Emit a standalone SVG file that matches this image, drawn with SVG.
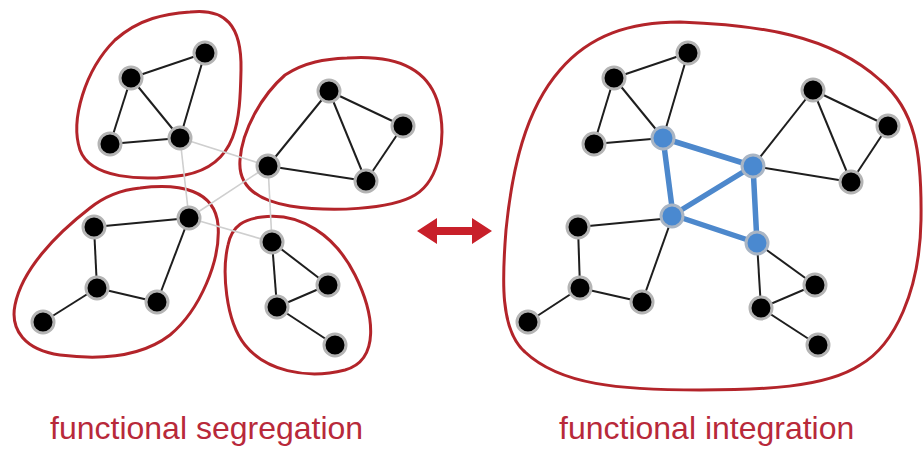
<svg xmlns="http://www.w3.org/2000/svg" width="923" height="451" viewBox="0 0 923 451">
<style>
.blob{fill:none;stroke:#b3242a;stroke-width:3}
.e{stroke:#1e1e1e;stroke-width:2;fill:none}
.g{stroke:#cfcfcf;stroke-width:1.6;fill:none}
.b{stroke:#4d88cc;stroke-width:5.5;fill:none;stroke-linecap:round}
.n{fill:#000;stroke:#b4b4b4;stroke-width:3}
.nb{fill:#4a89d0;stroke:#a9b5c4;stroke-width:3}
.lbl{font-family:"Liberation Sans",Arial,sans-serif;font-size:32px;fill:#b8293a}
</style>
<g id="modules">
<path class="blob" d="M 190,12 C 225,8 242,25 241,70 C 240,120 238,165 185,175 C 140,182 90,178 80,150 C 70,120 85,70 115,40 C 140,18 165,14 190,12 Z"/>
<path class="blob" d="M 347,58 C 390,55 425,65 437,100 C 448,135 440,180 415,195 C 390,210 330,212 290,206 C 255,200 238,185 240,160 C 242,130 262,95 285,75 C 305,62 325,59 347,58 Z"/>
<path class="blob" d="M 140,188 C 180,183 215,190 218,225 C 221,260 200,310 170,335 C 140,358 100,360 60,355 C 25,350 10,330 15,305 C 22,270 55,235 90,208 C 105,196 120,190 140,188 Z"/>
<path class="blob" d="M 262,217 C 300,212 335,235 355,275 C 375,315 380,360 345,370 C 305,380 265,370 245,345 C 225,320 222,270 228,245 C 232,225 245,219 262,217 Z"/>
<path class="blob" d="M 680,22 C 760,25 830,35 880,80 C 915,110 922,150 921,220 C 920,290 895,345 860,365 C 825,388 760,390 700,390 C 620,390 560,385 525,352 C 500,330 502,280 506,230 C 512,170 525,110 560,70 C 590,35 630,22 680,22 Z"/>
</g>
<g id="connectors">
<line class="g" x1="180" y1="138" x2="189" y2="218"/>
<line class="g" x1="180" y1="138" x2="268" y2="166"/>
<line class="g" x1="268" y1="166" x2="189" y2="218"/>
<line class="g" x1="268" y1="166" x2="272" y2="242"/>
<line class="g" x1="189" y1="218" x2="272" y2="242"/>
<line class="e" x1="131" y1="78" x2="205" y2="53"/>
<line class="e" x1="131" y1="78" x2="110" y2="144"/>
<line class="e" x1="131" y1="78" x2="180" y2="138"/>
<line class="e" x1="205" y1="53" x2="180" y2="138"/>
<line class="e" x1="110" y1="144" x2="180" y2="138"/>
<line class="e" x1="329" y1="91" x2="403" y2="126"/>
<line class="e" x1="329" y1="91" x2="268" y2="166"/>
<line class="e" x1="329" y1="91" x2="366" y2="181"/>
<line class="e" x1="403" y1="126" x2="366" y2="181"/>
<line class="e" x1="268" y1="166" x2="366" y2="181"/>
<line class="e" x1="94" y1="227" x2="189" y2="218"/>
<line class="e" x1="94" y1="227" x2="97" y2="288"/>
<line class="e" x1="189" y1="218" x2="157" y2="302"/>
<line class="e" x1="97" y1="288" x2="157" y2="302"/>
<line class="e" x1="97" y1="288" x2="43" y2="322"/>
<line class="e" x1="272" y1="242" x2="328" y2="285"/>
<line class="e" x1="272" y1="242" x2="277" y2="307"/>
<line class="e" x1="277" y1="307" x2="328" y2="285"/>
<line class="e" x1="277" y1="307" x2="335" y2="345"/>
<line class="e" x1="614" y1="78" x2="688" y2="53"/>
<line class="e" x1="614" y1="78" x2="594" y2="144"/>
<line class="e" x1="614" y1="78" x2="663" y2="138"/>
<line class="e" x1="688" y1="53" x2="663" y2="138"/>
<line class="e" x1="594" y1="144" x2="663" y2="138"/>
<line class="e" x1="813" y1="90" x2="888" y2="126"/>
<line class="e" x1="813" y1="90" x2="753" y2="166"/>
<line class="e" x1="813" y1="90" x2="851" y2="182"/>
<line class="e" x1="888" y1="126" x2="851" y2="182"/>
<line class="e" x1="753" y1="166" x2="851" y2="182"/>
<line class="e" x1="578" y1="227" x2="672" y2="218"/>
<line class="e" x1="578" y1="227" x2="580" y2="288"/>
<line class="e" x1="672" y1="218" x2="642" y2="302"/>
<line class="e" x1="580" y1="288" x2="642" y2="302"/>
<line class="e" x1="580" y1="288" x2="528" y2="322"/>
<line class="e" x1="757" y1="243" x2="815" y2="285"/>
<line class="e" x1="757" y1="243" x2="761" y2="308"/>
<line class="e" x1="761" y1="308" x2="815" y2="285"/>
<line class="e" x1="761" y1="308" x2="818" y2="345"/>
<line class="b" x1="663" y1="138" x2="753" y2="166"/>
<line class="b" x1="663" y1="138" x2="673" y2="215"/>
<line class="b" x1="753" y1="166" x2="673" y2="215"/>
<line class="b" x1="753" y1="166" x2="757" y2="243"/>
<line class="b" x1="673" y1="215" x2="757" y2="243"/>
<polygon id="arrow" fill="#c8202a" points="417,231 437,218 437,227 472,227 472,218 492,231 472,244 472,235 437,235 437,244"/>
</g>
<g id="n1"><circle class="n" cx="131" cy="78" r="11"/></g>
<g id="n2"><circle class="n" cx="205" cy="53" r="11"/></g>
<g id="n3"><circle class="n" cx="180" cy="138" r="11"/></g>
<g id="n4"><circle class="n" cx="110" cy="144" r="11"/></g>
<g id="n5"><circle class="n" cx="329" cy="91" r="11"/></g>
<g id="n6"><circle class="n" cx="403" cy="126" r="11"/></g>
<g id="n7"><circle class="n" cx="268" cy="166" r="11"/></g>
<g id="n8"><circle class="n" cx="366" cy="181" r="11"/></g>
<g id="n9"><circle class="n" cx="94" cy="227" r="11"/></g>
<g id="n10"><circle class="n" cx="189" cy="218" r="11"/></g>
<g id="n11"><circle class="n" cx="97" cy="288" r="11"/></g>
<g id="n12"><circle class="n" cx="157" cy="302" r="11"/></g>
<g id="n13"><circle class="n" cx="43" cy="322" r="11"/></g>
<g id="n14"><circle class="n" cx="272" cy="242" r="11"/></g>
<g id="n15"><circle class="n" cx="328" cy="285" r="11"/></g>
<g id="n16"><circle class="n" cx="277" cy="307" r="11"/></g>
<g id="n17"><circle class="n" cx="335" cy="345" r="11"/></g>
<g id="m1"><circle class="n" cx="614" cy="78" r="11"/></g>
<g id="m2"><circle class="n" cx="688" cy="53" r="11"/></g>
<g id="m3"><circle class="nb" cx="663" cy="138" r="11"/></g>
<g id="m4"><circle class="n" cx="594" cy="144" r="11"/></g>
<g id="m5"><circle class="n" cx="813" cy="90" r="11"/></g>
<g id="m6"><circle class="n" cx="888" cy="126" r="11"/></g>
<g id="m7"><circle class="nb" cx="753" cy="166" r="11"/></g>
<g id="m8"><circle class="n" cx="851" cy="182" r="11"/></g>
<g id="m9"><circle class="n" cx="578" cy="227" r="11"/></g>
<g id="m10"><circle class="nb" cx="672" cy="216" r="11"/></g>
<g id="m11"><circle class="n" cx="580" cy="288" r="11"/></g>
<g id="m12"><circle class="n" cx="642" cy="302" r="11"/></g>
<g id="m13"><circle class="n" cx="528" cy="322" r="11"/></g>
<g id="m14"><circle class="nb" cx="757" cy="243" r="11"/></g>
<g id="m15"><circle class="n" cx="815" cy="285" r="11"/></g>
<g id="m16"><circle class="n" cx="761" cy="308" r="11"/></g>
<g id="m17"><circle class="n" cx="818" cy="345" r="11"/></g>
<g id="labels">
<text class="lbl" x="50" y="439">functional segregation</text>
<text class="lbl" x="559" y="439">functional integration</text>
</g>
</svg>
